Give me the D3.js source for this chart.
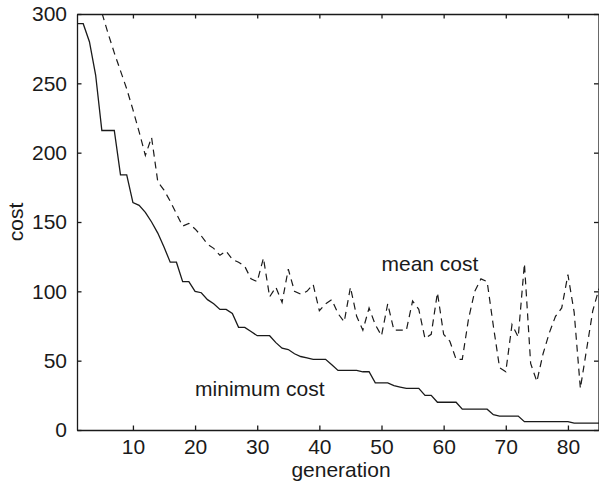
<!DOCTYPE html>
<html>
<head>
<meta charset="utf-8">
<script src="https://cdn.jsdelivr.net/npm/d3@7"></script>
<style>
  html, body { margin: 0; padding: 0; background: #fff; }
  svg { display: block; }
  text { font-family: "Liberation Sans", Arial, Helvetica, sans-serif; fill: #1a1a1a; }
</style>
</head>
<body>
<svg id="chart" width="599" height="486"></svg>
<script>
const generations = d3.range(1, 86);
const minimumCost = [
  293, 293, 280, 256, 216, 216, 216, 184, 184, 164,
  162, 157, 150, 142, 132, 121, 121, 107, 107, 100,
  99, 94, 91, 87, 87, 84, 74, 74, 71, 68,
  68, 68, 63, 59, 58, 55, 53, 52, 51, 51,
  51, 47, 43, 43, 43, 43, 42, 42, 34, 34,
  34, 32, 31, 30, 30, 30, 25, 25, 20, 20,
  20, 20, 15, 15, 15, 15, 15, 11, 10, 10,
  10, 10, 6, 6, 6, 6, 6, 6, 6, 6,
  5, 5, 5, 5, 5
];
const meanCost = [
  420, 370, 340, 318, 301, 286, 272, 259, 246, 231,
  215, 198, 211, 179, 173, 165, 156, 147, 149, 145,
  140, 134, 131, 126, 129, 123, 121, 118, 109, 107,
  124, 96, 103, 92, 116, 100, 98, 100, 105, 86,
  91, 94, 84, 78, 103, 82, 72, 88, 76, 68,
  91, 72, 72, 72, 93, 87, 66, 69, 99, 69,
  64, 51, 51, 80, 100, 109, 107, 75, 45, 42,
  76, 67, 120, 48, 35, 55, 70, 82, 88, 112,
  85, 30, 58, 86, 102
];
const xTicks = [10, 20, 30, 40, 50, 60, 70, 80];
const yTicks = [0, 50, 100, 150, 200, 250, 300];
const labels = [
  { text: "mean cost", gen: 50, cost: 115 },
  { text: "minimum cost", gen: 20, cost: 24.7 }
];

const svg = d3.select("#chart");
const L = 77, R = 599, T = 14, B = 430;
const fs = 21;
const ink = "#1a1a1a";

const x = d3.scaleLinear().domain([1, 85]).range([L, R]);
const y = d3.scaleLinear().domain([0, 300]).range([B, T]);

svg.append("defs").append("clipPath").attr("id", "clip")
  .append("rect").attr("x", L).attr("y", T).attr("width", R - L).attr("height", B - T);

const axB = svg.append("g").attr("transform", `translate(0,${B})`)
  .call(d3.axisBottom(x).tickValues(xTicks).tickSizeInner(-4.5).tickSizeOuter(0).tickPadding(9));
const axT = svg.append("g").attr("transform", `translate(0,${T})`)
  .call(d3.axisTop(x).tickValues(xTicks).tickSizeInner(-4.5).tickSizeOuter(0).tickFormat(""));
const axL = svg.append("g").attr("transform", `translate(${L},0)`)
  .call(d3.axisLeft(y).tickValues(yTicks).tickSizeInner(-4.5).tickSizeOuter(0).tickPadding(10));
const axR = svg.append("g").attr("transform", `translate(${R - 0.5},0)`)
  .call(d3.axisRight(y).tickValues(yTicks).tickSizeInner(-4.5).tickSizeOuter(0).tickFormat(""));

[axB, axT, axL, axR].forEach(g => {
  g.selectAll(".domain").attr("stroke", ink).attr("stroke-width", 1.3);
  g.selectAll(".tick line").attr("stroke", ink).attr("stroke-width", 1.3);
  g.selectAll(".tick text").attr("font-size", fs).attr("fill", ink)
    .style("font-family", '"Liberation Sans", Arial, Helvetica, sans-serif');
});
axB.selectAll(".tick text").attr("dy", "0.71em");

const plot = svg.append("g").attr("clip-path", "url(#clip)");
const line = d3.line().x((d, i) => x(generations[i])).y(d => y(d));

plot.append("path").datum(meanCost)
  .attr("fill", "none").attr("stroke", ink).attr("stroke-width", 1.2)
  .attr("stroke-dasharray", "7,5")
  .attr("d", line);

plot.append("path").datum(minimumCost)
  .attr("fill", "none").attr("stroke", ink).attr("stroke-width", 1.3)
  .attr("d", line);

labels.forEach(l => {
  svg.append("text").attr("x", x(l.gen)).attr("y", y(l.cost))
    .attr("font-size", fs).text(l.text);
});

svg.append("text").attr("x", (L + R) / 2 + 3).attr("y", 477)
  .attr("text-anchor", "middle").attr("font-size", fs).text("generation");
svg.append("text").attr("transform", `translate(23,${(T + B) / 2}) rotate(-90)`)
  .attr("text-anchor", "middle").attr("font-size", fs).text("cost");
</script>
</body>
</html>
